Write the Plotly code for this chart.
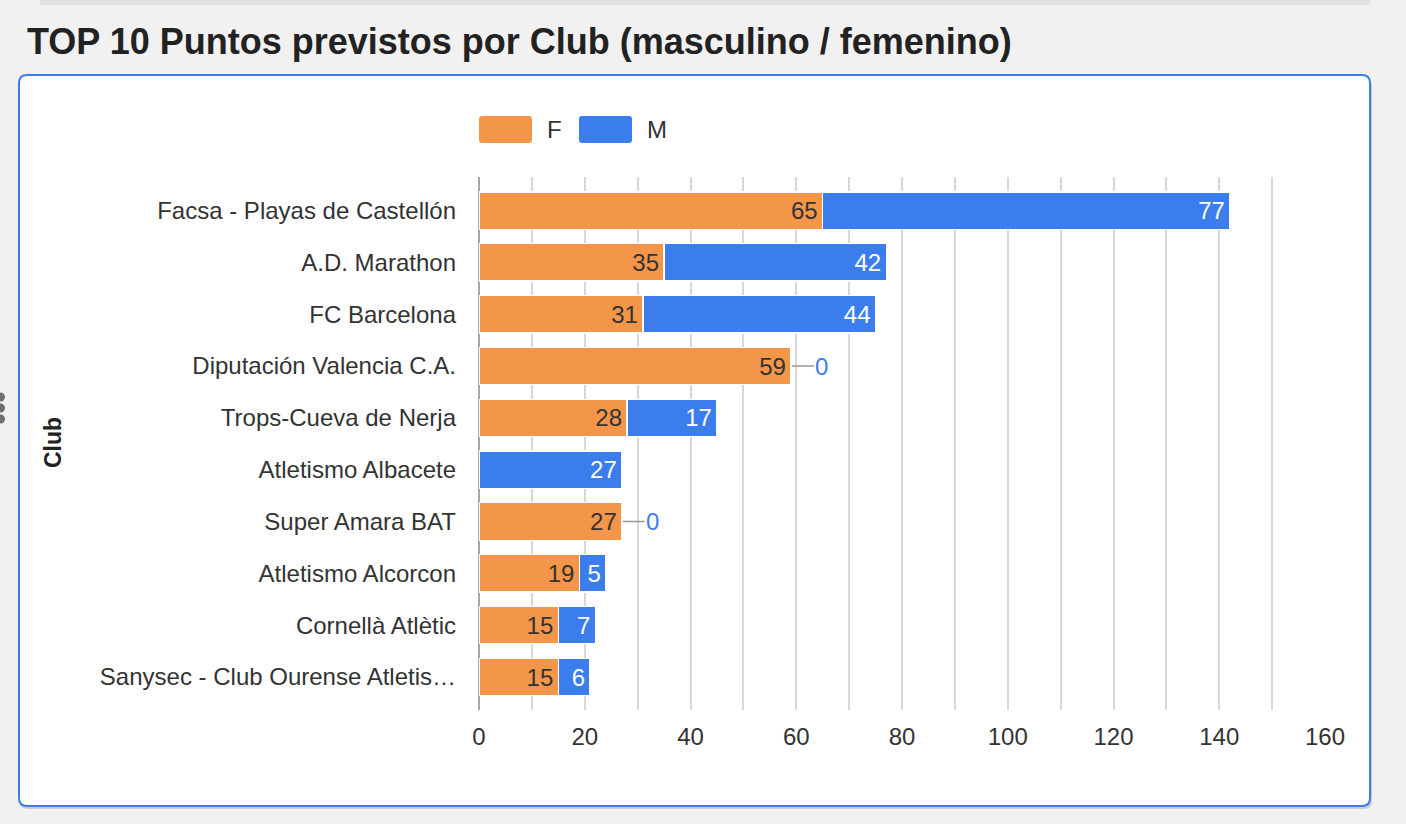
import plotly.graph_objects as go

# ---------------- data ----------------
clubs = [
    "Facsa - Playas de Castellón",
    "A.D. Marathon",
    "FC Barcelona",
    "Diputación Valencia C.A.",
    "Trops-Cueva de Nerja",
    "Atletismo Albacete",
    "Super Amara BAT",
    "Atletismo Alcorcon",
    "Cornellà Atlètic",
    "Sanysec - Club Ourense Atletis…",
]
f_points = [65, 35, 31, 59, 28, 0, 27, 19, 15, 15]
m_points = [77, 42, 44, 0, 17, 27, 0, 5, 7, 6]
x_tick_vals = [0, 20, 40, 60, 80, 100, 120, 140, 160]
series_names = ["F", "M"]
title_text = "TOP 10 Puntos previstos por Club (masculino / femenino)"
y_title = "Club"

# ---------------- style ----------------
FONT = "Liberation Sans, Arial, Helvetica, sans-serif"
ORANGE = "#f3964a"
BLUE = "#3b7ded"
W, H = 1406, 824
L, R, T, B = 479, 81, 177, 114
PW, PH = W - L - R, H - T - B
PAD = "\u200a"  # small trailing gap inside bar labels


def px(x):
    return (x - L) / PW


def py(y):
    return (H - B - y) / PH


def rrect(x0, y0, x1, y1, r):
    pts = [
        ("M", x0 + r, y0), ("L", x1 - r, y0), ("Q", x1, y0, x1, y0 + r),
        ("L", x1, y1 - r), ("Q", x1, y1, x1 - r, y1), ("L", x0 + r, y1),
        ("Q", x0, y1, x0, y1 - r), ("L", x0, y0 + r), ("Q", x0, y0, x0 + r, y0),
    ]
    s = ""
    for p in pts:
        cmd = p[0]
        coords = p[1:]
        parts = []
        for i in range(0, len(coords), 2):
            parts.append(f"{px(coords[i]):.6f},{py(coords[i+1]):.6f}")
        s += cmd + " " + " ".join(parts) + " "
    return s + "Z"


fig = go.Figure()

fig.add_trace(go.Bar(
    name=series_names[0], y=clubs, x=f_points, orientation="h",
    marker=dict(color=ORANGE, line=dict(color="white", width=1.2)),
    text=[str(v) + PAD if v else "" for v in f_points],
    textposition="inside", insidetextanchor="end",
    textfont=dict(family=FONT, size=24, color="#333333"),
    hoverinfo="x+y+name", cliponaxis=False,
))
fig.add_trace(go.Bar(
    name=series_names[1], y=clubs, x=m_points, orientation="h",
    marker=dict(color=BLUE, line=dict(color="white", width=1.2)),
    text=[str(v) + PAD if v else "" for v in m_points],
    textposition="inside", insidetextanchor="end",
    textfont=dict(family=FONT, size=24, color="white"),
    hoverinfo="x+y+name", cliponaxis=False,
))

annotations = []
# zero-value labels with connector line
for club, f, m in zip(clubs, f_points, m_points):
    if m == 0:
        annotations.append(dict(
            x=f + m, y=club, xref="x", yref="y", text="0",
            showarrow=True, arrowhead=0, arrowwidth=1.5, arrowcolor="#999999",
            ax=31, ay=0, standoff=1,
            font=dict(family=FONT, size=24, color=BLUE),
        ))

# custom legend
legend_items = [(series_names[0], ORANGE, 479, 545), (series_names[1], BLUE, 579, 645)]
shapes = []
# card shadow and card
shapes.append(dict(type="path", xref="paper", yref="paper", layer="below",
                   path=rrect(20, 78, 1372, 809, 8), fillcolor="#cdcdcd", line=dict(width=0)))
shapes.append(dict(type="path", xref="paper", yref="paper", layer="below",
                   path=rrect(19, 75, 1370, 806, 8), fillcolor="white",
                   line=dict(color=BLUE, width=2)))
# top band
shapes.append(dict(type="rect", xref="paper", yref="paper", layer="below",
                   x0=px(40), x1=px(1370), y0=py(0), y1=py(5),
                   fillcolor="#e2e2e2", line=dict(width=0)))
# handle dots at the left edge
for cy in (397, 408, 419):
    shapes.append(dict(type="circle", xref="paper", yref="paper", layer="above",
                       x0=px(-4), x1=px(5), y0=py(cy - 4.5), y1=py(cy + 4.5),
                       fillcolor="#6f6f6f", line=dict(width=0)))
for name, col, sx, tx in legend_items:
    shapes.append(dict(type="path", xref="paper", yref="paper", layer="above",
                       path=rrect(sx, 116, sx + 53, 143, 3), fillcolor=col,
                       line=dict(width=0)))
    annotations.append(dict(x=px(tx), y=py(129.5), xref="paper", yref="paper",
                            text=name, showarrow=False, xanchor="left", yanchor="middle",
                            font=dict(family=FONT, size=24, color="#333333")))

# y axis title
annotations.append(dict(x=px(53), y=py(443), xref="paper", yref="paper",
                        text="<b>" + y_title + "</b>", showarrow=False, textangle=-90,
                        xanchor="center", yanchor="middle",
                        font=dict(family=FONT, size=23, color="#222222")))

fig.update_layout(
    width=W, height=H,
    margin=dict(l=L, r=R, t=T, b=B, pad=0),
    barmode="stack", bargap=0.28,
    paper_bgcolor="#f1f1f1", plot_bgcolor="rgba(0,0,0,0)",
    showlegend=False,
    font=dict(family=FONT, size=24, color="#333333"),
    title=dict(text="<b>" + title_text + "</b>", xref="container", yref="container",
               x=27 / W, xanchor="left", y=1 - 41 / H, yanchor="middle",
               font=dict(family=FONT, size=36, color="#222222")),
    xaxis=dict(range=[0, 160], tickmode="array", tickvals=x_tick_vals,
               showgrid=True, gridcolor="#d8d8d8", gridwidth=2,
               minor=dict(dtick=10, tick0=0, showgrid=True, gridcolor="#d8d8d8", gridwidth=2),
               zeroline=True, zerolinecolor="#a6a6a6", zerolinewidth=2,
               showline=False, ticks="", ticklabelstandoff=10,
               tickfont=dict(family=FONT, size=24, color="#333333"), fixedrange=True),
    yaxis=dict(type="category", categoryorder="array", categoryarray=clubs,
               range=[9.636, -0.648], showgrid=False, zeroline=False, showline=False,
               ticks="", ticklabelstandoff=22,
               tickfont=dict(family=FONT, size=24, color="#333333"), fixedrange=True),
    shapes=shapes, annotations=annotations,
)

fig.write_html(
    "out.html",
    config={"displayModeBar": False},
    post_script="document.body.style.margin='0';document.body.style.background='#f1f1f1';"
                "document.body.style.overflow='hidden';",
)
